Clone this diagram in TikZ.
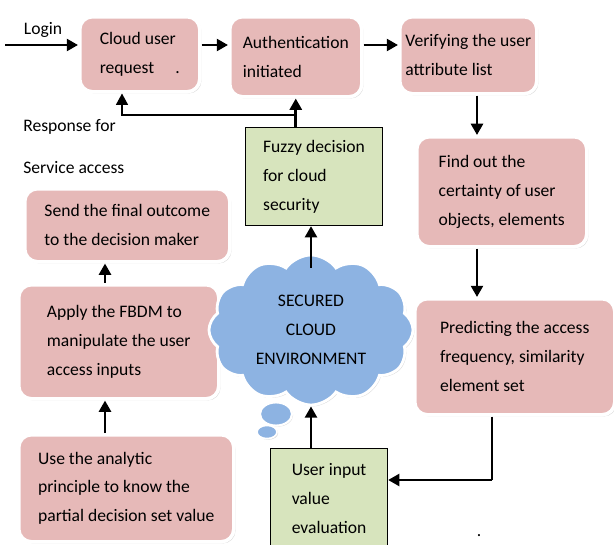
\documentclass[tikz,border=0pt]{standalone}
\usepackage{fontspec}
\setmainfont{Carlito}
\usetikzlibrary{shapes.symbols,shapes.geometric,shadows,arrows.meta}

\definecolor{boxpink}{HTML}{E6B9B8}
\definecolor{boxgreen}{HTML}{D7E4BD}
\definecolor{cloudblue}{HTML}{8DB3E2}

\tikzset{
    txt/.style={font=\fontsize{12.5}{20.5}\selectfont},
    pbox/.style={txt, rounded corners=9pt, fill=boxpink, draw=white, line width=2.5pt,
        drop shadow={shadow xshift=1.2pt, shadow yshift=-1.2pt, fill=gray!55},
        align=left, anchor=north west, inner sep=0pt},
    gbox/.style={txt, fill=boxgreen, draw=black, line width=0.8pt,
        align=left, anchor=north west, inner sep=0pt},
    arr/.style={-{Triangle[length=8pt,width=8.5pt]}, line width=1.9pt},
    thinarr/.style={-{Triangle[length=8pt,width=8.5pt]}, line width=0.8pt},
}

\begin{document}
\begin{tikzpicture}[x=0.025cm, y=-0.025cm]
        \useasboundingbox (0,0) rectangle (614,545);

        % Draw nodes
        \node[pbox, minimum width=3.0cm, minimum height=1.875cm] (req) at (78,15) {Cloud user\\request\hspace{1.2em}.};
        \node[pbox, minimum width=3.3cm, minimum height=2.0cm] (auth) at (228,15) {Authentication\\initiated};
        \node[pbox, minimum width=3.425cm, minimum height=1.925cm] (verif) at (398,15) {Verifying the user\\attribute list};
        \node[pbox, minimum width=4.25cm, minimum height=2.75cm] (find) at (415,135) {Find out the\\certainty of user\\objects, elements};
        \node[pbox, minimum width=5.0cm, minimum height=2.9cm] (pred) at (413,297) {Predicting the access\\frequency, similarity\\element set};
        \node[pbox, minimum width=5.125cm, minimum height=1.825cm] (send) at (23,187) {Send the final outcome\\to the decision maker};
        \node[pbox, minimum width=5.0cm, minimum height=2.85cm] (apply) at (17,283) {Apply the FBDM to\\manipulate the user\\access inputs};
        \node[pbox, minimum width=5.375cm, minimum height=2.675cm] (use) at (17,433) {Use the analytic\\principle to know the\\partial decision set value};
        \node[gbox, minimum width=3.425cm, minimum height=2.45cm] (fuzzy) at (245,127) {Fuzzy decision\\for cloud\\security};
        \node[gbox, minimum width=2.925cm, minimum height=2.5cm] (user) at (270,448) {User input\\value\\evaluation};

        % Cloud
        \node[txt, cloud, cloud puffs=12, cloud puff arc=110, aspect=1.35, fill=cloudblue, draw=white, line width=2pt,
            drop shadow={shadow xshift=1pt, shadow yshift=-1pt, fill=gray!55},
            minimum width=5.1cm, minimum height=3.75cm, align=center, inner sep=0pt] (cloud) at (311,330) {SECURED\\CLOUD\\ENVIRONMENT};
        \node[ellipse, fill=cloudblue, draw=white, line width=1.5pt, minimum width=0.8cm, minimum height=0.58cm,
            drop shadow={shadow xshift=0.8pt, shadow yshift=-0.8pt, fill=gray!55}] (bubA) at (276,414) {};
        \node[ellipse, fill=cloudblue, draw=white, line width=1.2pt, minimum width=0.5cm, minimum height=0.33cm,
            drop shadow={shadow xshift=0.8pt, shadow yshift=-0.8pt, fill=gray!55}] (bubB) at (267,432) {};

        % Labels
        \node[txt] (login) at (43,30) {Login};
        \node[txt, anchor=west, inner sep=0pt] (resp1) at (23,127) {Response for};
        \node[txt, anchor=west, inner sep=0pt] (resp2) at (23,168) {Service access};
        \node[txt, inner sep=0pt] (dot) at (479,536) {.};

        % Helper coordinates
        \coordinate (start) at (5,45);
        \coordinate (colA) at (477,0);
        \coordinate (colB) at (105,0);
        \coordinate (colD) at (122,0);
        \coordinate (resp) at (294,115);
        \coordinate (bend) at (492,480);

        % Draw connections
        \draw[arr] (start) -- (req.west |- start);
        \draw[arr] (req.east |- start) -- (auth.west |- start);
        \draw[arr] (auth.east |- start) -- (verif.west |- start);
        \draw[arr] (verif.south -| colA) -- (find.north -| colA);
        \draw[arr] (find.south -| colA) -- (pred.north -| colA);
        \draw[line width=0.8pt] (pred.south -| bend) -- (bend);
        \draw[arr] (bend) -- (user.east |- bend);
        \draw[arr] (user.north -| cloud.south) -- (cloud.south);
        \draw[arr] ([yshift=-0.35cm]cloud.north) -- (fuzzy.south -| cloud.north);
        \draw[arr] (fuzzy.north -| auth.south) -- (auth.south);
        \draw[thinarr] (resp) -| (req.south -| colD);
        \draw[arr] (use.north -| colB) -- (apply.south -| colB);
        \draw[arr] (apply.north -| colB) -- (send.south -| colB);
    \end{tikzpicture}
\end{document}
